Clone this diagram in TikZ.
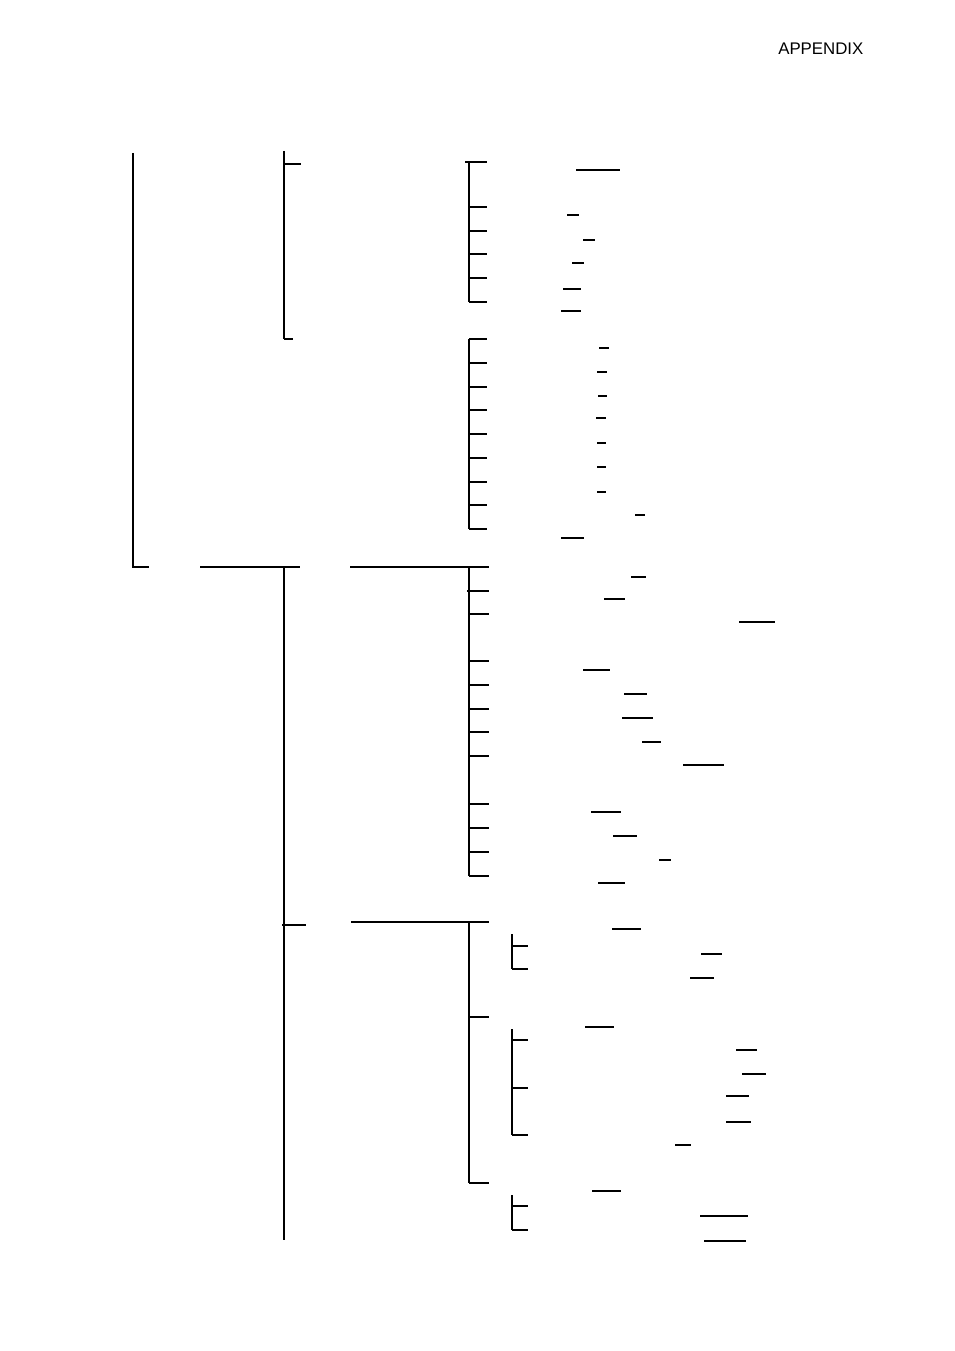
\documentclass[tikz,border=0pt]{standalone}
\usepackage{fontspec}
\setmainfont{Liberation Sans}
\usepackage{tikz}

\begin{document}
\begin{tikzpicture}[x=0.624pt,y=-0.624pt,line width=0.8pt]
        \useasboundingbox (0,0) rectangle (954,1351);
        \node[anchor=base east,font=\fontsize{10.5}{12.5}\selectfont,inner sep=0pt] (appx) at (864,55) {APPENDIX};
        % first level
        \draw (133,153) -- (133,567) -- (149,567);
        \draw (284,151) -- (284,339);
        \draw (284,164) -- (301,164);
        \draw[line width=1.5pt] (284,339) -- (293,339);
        \draw[line width=1.5pt] (200,567) -- (300,567);
        \draw (284,567) -- (284,1240);
        \draw (282,925) -- (306,925);
        \draw (350,567) -- (489,567);
        \draw (351,922) -- (489,922);
        % second level brackets
        \draw (465,162) -- (469,162) -- (469,302);
        \foreach \y in {162,207,231,254,278,302}
            \draw (469,\y) -- (487,\y);
        \draw (469,339) -- (469,529);
        \foreach \y in {339,363,387,410,434,458,482,505,529}
            \draw (469,\y) -- (487,\y);
        \draw (469,567) -- (469,876);
        \foreach \y in {567,614,661,685,709,732,756,828,852,876}
            \draw (469,\y) -- (489,\y);
        \draw (467,591) -- (489,591);
        \draw[line width=1.5pt] (469,804) -- (489,804);
        \draw (469,922) -- (469,1183);
        \foreach \y in {922,1017,1183}
            \draw (469,\y) -- (489,\y);
        % third level brackets
        \draw (512,934) -- (512,969);
        \foreach \y in {946,969}
            \draw (512,\y) -- (528,\y);
        \draw (512,1029) -- (512,1135);
        \foreach \y in {1040,1088,1135}
            \draw (512,\y) -- (528,\y);
        \draw (512,1195) -- (512,1230);
        \foreach \y in {1206,1230}
            \draw (512,\y) -- (528,\y);
        % underlines
        \foreach \a/\b/\y in {576/620/170, 567/579/215, 583/595/240, 572/584/263, 563/581/289, 561/581/311,
            599/609/348, 597/607/372, 598/607/396, 596/606/418, 597/606/443, 597/606/467, 597/606/492,
            635/645/515, 561/584/538,
            631/646/577, 604/625/599, 739/775/622, 583/610/670, 624/647/694, 622/653/718, 642/661/742,
            683/724/765, 591/621/812, 613/637/836, 659/671/860, 598/625/883,
            612/641/929, 701/722/954, 690/714/978, 585/614/1027, 736/757/1050, 742/766/1074,
            726/749/1096, 726/751/1122, 675/691/1145, 592/621/1191, 700/748/1216, 704/746/1241}
            \draw (\a,\y) -- (\b,\y);
\end{tikzpicture}
\end{document}
